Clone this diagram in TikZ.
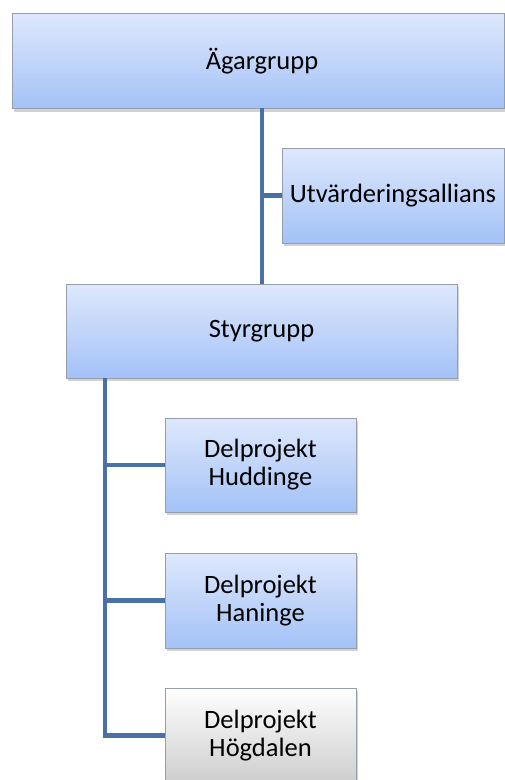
\documentclass[tikz,border=0pt]{standalone}
\usepackage{fontspec}
\setmainfont{Carlito}
\usetikzlibrary{shadows,calc}
\definecolor{boxtop}{RGB}{222,232,252}
\definecolor{boxbot}{RGB}{163,194,247}
\definecolor{boxline}{RGB}{150,158,172}
\definecolor{conn}{RGB}{74,113,166}
\definecolor{graybot}{RGB}{205,205,205}
\tikzset{
  orgbox/.style={draw=boxline, line width=1pt, top color=boxtop, bottom color=boxbot,
    drop shadow={shadow xshift=1.5pt, shadow yshift=-3pt, opacity=0.35},
    align=center, inner sep=0pt, font=\fontsize{26.5}{28}\selectfont},
  graybox/.style={orgbox, top color=white, bottom color=graybot},
  link/.style={draw=conn, line width=4.5pt}
}
\begin{document}
\begin{tikzpicture}[x=1pt,y=-1pt]
\useasboundingbox (0,0) rectangle (505,780);
\clip (0,0) rectangle (505,780);
\fill[white] (0,0) rectangle (505,780);
\node[orgbox, minimum width=492pt, minimum height=95pt] (ag) at (258,61) {\hspace*{8pt}Ägargrupp};
\node[orgbox, minimum width=222pt, minimum height=95pt] (utv) at (393,195.5) {Utvärderingsallians};
\node[orgbox, minimum width=391pt, minimum height=94pt] (sty) at (261.5,331) {Styrgrupp};
\node[orgbox, minimum width=191pt, minimum height=94pt] (hud) at (260.5,465) {Delprojekt\\Huddinge};
\node[orgbox, minimum width=191pt, minimum height=95pt] (han) at (260.5,600.5) {Delprojekt\\Haninge};
\node[graybox, minimum width=191pt, minimum height=95pt] (hog) at (260.5,735.5) {Delprojekt\\Högdalen};
\coordinate (topjoin) at (262,108);
\coordinate (trunk) at (105,378);
\draw[link] (topjoin) -- (topjoin |- sty.north);
\draw[link] (topjoin |- utv.west) -- (utv.west);
\draw[link] (trunk) |- (hog.west);
\draw[link] (trunk |- hud.west) -- (hud.west);
\draw[link] (trunk |- han.west) -- (han.west);
\end{tikzpicture}
\end{document}
